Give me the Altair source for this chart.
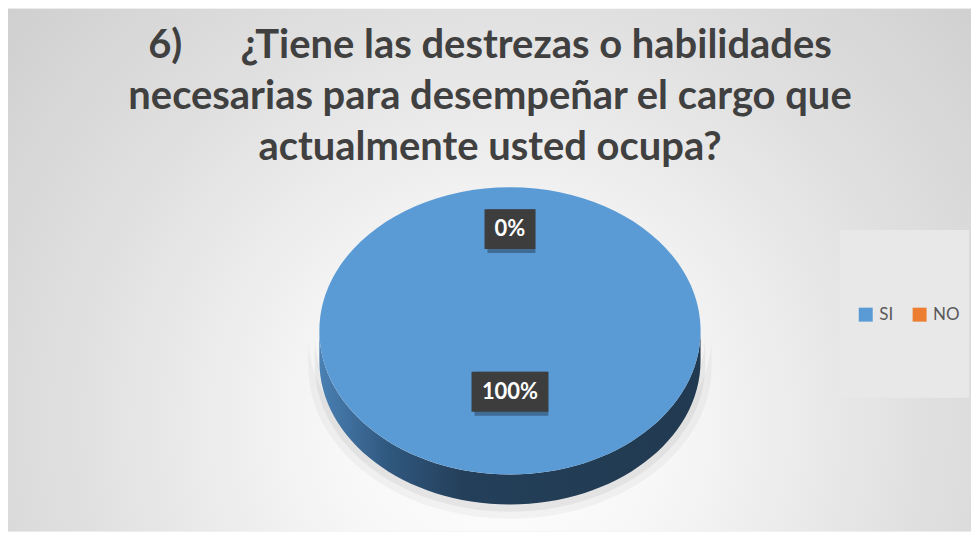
import altair as alt
import pandas as pd

# ---- data ----
categories = ["SI", "NO"]
values = [100, 0]
labels = ["100%", "0%"]
colors = ["#5B9BD5", "#ED7D31"]
title_lines = [
    "6)\u00a0\u00a0\u00a0\u00a0\u00a0\u00a0¿Tiene las destrezas o habilidades",
    "necesarias para desempeñar el cargo que",
    "actualmente usted ocupa?",
]

df = pd.DataFrame({"respuesta": categories, "valor": values, "etiqueta": labels})

# ---- layout constants (pixels) ----
W = 965
PAD_TOP = 170
H = 524 - PAD_TOP
CX, CY = 503, 153          # pie centre inside the view
RX, RY = 191, 144          # top-face radii
E = RY / RX
DEPTH = 30 / RX

xs = alt.Scale(domain=[-CX / RX, (W - CX) / RX], nice=False, zero=False)
ys = alt.Scale(domain=[-(H - CY) / RY, CY / RY], nice=False, zero=False)

top_path = f"M -1 0 A 1 {E:.4f} 0 1 1 1 0 A 1 {E:.4f} 0 1 1 -1 0 Z"
side_path = f"M -1 0 L -1 {DEPTH:.4f} A 1 {E:.4f} 0 0 0 1 {DEPTH:.4f} L 1 0 A 1 {E:.4f} 0 0 1 -1 0 Z"
SIZE = (2 * RX) ** 2

one = alt.Data(values=[{"k": 0}])

bg = alt.Chart(one).mark_rect(
    fill=alt.RadialGradient(
        gradient="radial",
        x1=0.51, y1=0.66, r1=0,
        x2=0.51, y2=0.66, r2=0.8,
        stops=[
            alt.GradientStop(color="#ffffff", offset=0),
            alt.GradientStop(color="#f7f7f7", offset=0.22),
            alt.GradientStop(color="#e0e0e0", offset=0.55),
            alt.GradientStop(color="#c6c6c6", offset=1),
        ],
    )
).encode(x=alt.value(0), x2=alt.value(W), y=alt.value(-PAD_TOP), y2=alt.value(H))

legend_box = alt.Chart(one).mark_rect(fill="#e8e8e8").encode(
    x=alt.value(834), x2=alt.value(963), y=alt.value(52), y2=alt.value(220)
)

title = alt.Chart(one).mark_text(
    font="Lato", fontWeight="bold", fontSize=40, color="#404040",
    align="center", baseline="alphabetic", lineHeight=51,
).encode(x=alt.value(483), y=alt.value(-120), text=alt.value(title_lines))

pie_base = alt.Chart(df).transform_filter("datum.valor > 0")
X0 = alt.X(datum=0, type="quantitative", scale=xs, axis=None)
Y0 = alt.Y(datum=0, type="quantitative", scale=ys, axis=None)

shadow1 = pie_base.mark_point(
    shape=side_path, filled=True, fill="#000000", opacity=0.035, size=SIZE * 1.12, strokeWidth=0, yOffset=4
).encode(x=X0, y=Y0)
shadow2 = pie_base.mark_point(
    shape=side_path, filled=True, fill="#000000", opacity=0.05, size=SIZE * 1.05, strokeWidth=0, yOffset=3
).encode(x=X0, y=Y0)

side = pie_base.mark_point(
    shape=side_path, filled=True, opacity=1, size=SIZE, strokeWidth=0,
    fill=alt.LinearGradient(
        gradient="linear", x1=0, y1=0, x2=1, y2=0,
        stops=[
            alt.GradientStop(color="#4a80b3", offset=0),
            alt.GradientStop(color="#30587f", offset=0.18),
            alt.GradientStop(color="#243f59", offset=0.38),
            alt.GradientStop(color="#213a51", offset=1),
        ],
    ),
).encode(x=X0, y=Y0)

top = pie_base.mark_point(shape=top_path, filled=True, opacity=1, size=SIZE, strokeWidth=0).encode(
    x=X0,
    y=Y0,
    color=alt.Color(
        "respuesta:N",
        scale=alt.Scale(domain=categories, range=colors),
        legend=alt.Legend(
            title=None, orient="none", legendX=851, legendY=128, direction="horizontal",
            symbolType="square", symbolSize=196, symbolStrokeWidth=0,
            labelFontSize=17, labelFont="Lato", labelColor="#595959",
            columnPadding=18, labelOffset=5,
        ),
    ),
)

lab = (
    alt.Chart(df)
    .transform_joinaggregate(total="sum(valor)")
    .transform_window(cum="sum(valor)", frame=[None, 0])
    .transform_calculate(mid="(datum.cum - datum.valor / 2) / datum.total * 2 * PI")
    .transform_calculate(
        lx="0.43 * sin(datum.mid)",
        ly="0.142 + 0.566 * cos(datum.mid)",
        hw=f"(25 + 13 * length(datum.etiqueta)) / 2 / {RX}",
        hh=f"20 / {RY}",
    )
    .transform_calculate(
        bx0="datum.lx - datum.hw", bx1="datum.lx + datum.hw",
        by0="datum.ly - datum.hh", by1="datum.ly + datum.hh",
    )
)
lab_shadow = lab.mark_rect(fill="#1c3146", opacity=0.45, xOffset=3, yOffset=4).encode(
    x=alt.X("bx0:Q", scale=xs, axis=None), x2="bx1:Q",
    y=alt.Y("by0:Q", scale=ys, axis=None), y2="by1:Q",
)
lab_box = lab.mark_rect(fill="#3d3d3d").encode(
    x=alt.X("bx0:Q", scale=xs, axis=None), x2="bx1:Q",
    y=alt.Y("by0:Q", scale=ys, axis=None), y2="by1:Q",
)
lab_text = lab.mark_text(font="Lato", fontWeight="bold", fontSize=22, color="#ffffff").encode(
    x=alt.X("lx:Q", scale=xs, axis=None),
    y=alt.Y("ly:Q", scale=ys, axis=None),
    text="etiqueta:N",
)

chart = (
    alt.layer(bg, legend_box, title, shadow1, shadow2, side, top, lab_shadow, lab_box, lab_text)
    .properties(
        width=W,
        height=H,
        autosize=alt.AutoSizeParams(type="none"),
        padding={"top": PAD_TOP, "left": 0, "right": 0, "bottom": 0},
        background="#ffffff",
    )
    .configure_view(stroke=None)
)

chart.save("out.html", embed_options={"renderer": "svg", "actions": False})
